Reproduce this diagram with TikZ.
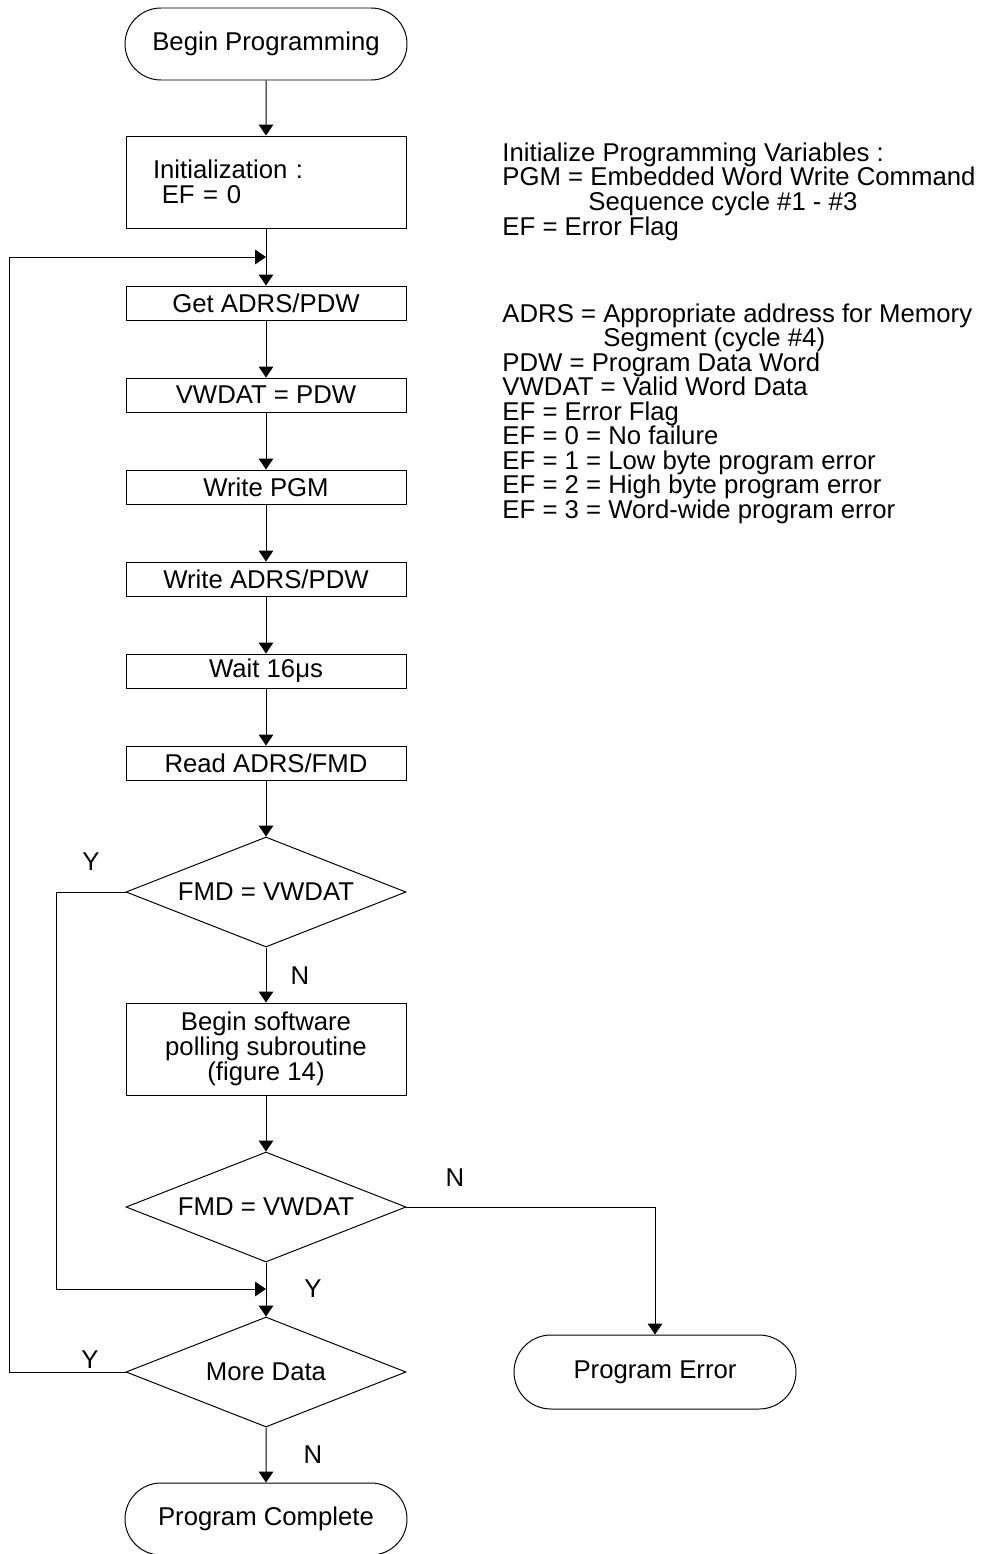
\documentclass[tikz,border=0pt]{standalone}
\usepackage{fontspec}
\setmainfont{Liberation Sans}
\usetikzlibrary{shapes.geometric,shapes.misc,arrows.meta}

\tikzset{
  >={Triangle[length=0.27cm,width=0.36cm]},
  term/.style={draw, rounded rectangle, minimum width=7.05cm, minimum height=1.8cm, inner sep=0pt},
  procbox/.style={draw, rectangle, minimum width=7cm, minimum height=0.85cm, inner sep=0pt},
  decide/.style={draw, diamond, aspect=2.57, minimum width=7cm, minimum height=2.75cm, inner sep=0pt},
  note/.style={anchor=base west, inner sep=0pt}
}

\begin{document}
\begin{tikzpicture}[line width=0.7pt, font=\fontsize{18.3}{17.6}\selectfont]
    \useasboundingbox (0,0) rectangle (24.6,-38.85);

    \node[term] (begin) at (6.65,-1.1) {Begin Programming};
    \node[procbox, minimum height=2.3cm, text width=5.65cm, align=left, inner xsep=0.675cm] (init) at (6.65,-4.55) {Initialization :\\\hspace*{0.22cm}EF = 0};

    \node[procbox] (getadrs) at (6.65,-7.575) {Get ADRS/PDW};
    \node[procbox] (setvw) at (6.65,-9.875) {VWDAT = PDW};
    \node[procbox] (wrpgm) at (6.65,-12.175) {Write PGM};
    \node[procbox] (wradrs) at (6.65,-14.475) {Write ADRS/PDW};
    \node[procbox] (wait) at (6.65,-16.775) {Wait 16μs};
    \node[procbox] (rdfmd) at (6.65,-19.075) {Read ADRS/FMD};

    \node[decide] (chk1) at (6.65,-22.3) {FMD = VWDAT};
    \node[procbox, minimum height=2.3cm, align=center] (poll) at (6.65,-26.225) {Begin software\\polling subroutine\\(figure 14)};
    \node[decide] (chk2) at (6.65,-30.175) {FMD = VWDAT};
    \node[decide] (more) at (6.65,-34.3) {More Data};
    \node[term] (done) at (6.65,-37.975) {Program Complete};
    \node[term, minimum height=1.85cm] (err) at (16.375,-34.3) {Program Error};

    \coordinate (loop) at (6.65,-6.425);
    \coordinate (merge) at (6.65,-32.225);

    % Y / N labels
    \node (y1) at (2.275,-21.55) {Y};
    \node (n1) at (7.5,-24.4) {N};
    \node (n2) at (11.375,-29.45) {N};
    \node (y2) at (7.825,-32.225) {Y};
    \node (y3) at (2.25,-34.0) {Y};
    \node (n3) at (7.825,-36.375) {N};

    % Arrows
    \draw[->] (begin) -- (init);
    \draw[->] (init) -- (getadrs);
    \draw[->] (getadrs) -- (setvw);
    \draw[->] (setvw) -- (wrpgm);
    \draw[->] (wrpgm) -- (wradrs);
    \draw[->] (wradrs) -- (wait);
    \draw[->] (wait) -- (rdfmd);
    \draw[->] (rdfmd) -- (chk1);
    \draw[->] (chk1) -- (poll);
    \draw[->] (poll) -- (chk2);
    \draw[->] (chk2) -- (more);
    \draw[->] (more) -- (done);
    \draw[->] (chk2.east) -| (err.north);
    \draw[->] (chk1.west) -- ++(-1.725,0) |- (merge);
    \draw[->] (more.west) -- ++(-2.9,0) |- (loop);

    % Notes
    \node[note] (t1) at (12.55,-4.025) {Initialize Programming Variables :};
    \node[note] (t2) at (12.55,-4.64) {PGM = Embedded Word Write Command};
    \node[note] (t3) at (14.7,-5.26) {Sequence cycle \#1 - \#3};
    \node[note] (t4) at (12.55,-5.875) {EF = Error Flag};

    \node[note] (t5) at (12.55,-8.05) {ADRS = Appropriate address for Memory};
    \node[note] (t6) at (15.075,-8.66) {Segment (cycle \#4)};
    \node[note] (t7) at (12.55,-9.275) {PDW = Program Data Word};
    \node[note] (t8) at (12.55,-9.89) {VWDAT = Valid Word Data};
    \node[note] (t9) at (12.55,-10.5) {EF = Error Flag};
    \node[note] (t10) at (12.55,-11.11) {EF = 0 = No failure};
    \node[note] (t11) at (12.55,-11.725) {EF = 1 = Low byte program error};
    \node[note] (t12) at (12.55,-12.34) {EF = 2 = High byte program error};
    \node[note] (t13) at (12.55,-12.95) {EF = 3 = Word-wide program error};

  \end{tikzpicture}
\end{document}
